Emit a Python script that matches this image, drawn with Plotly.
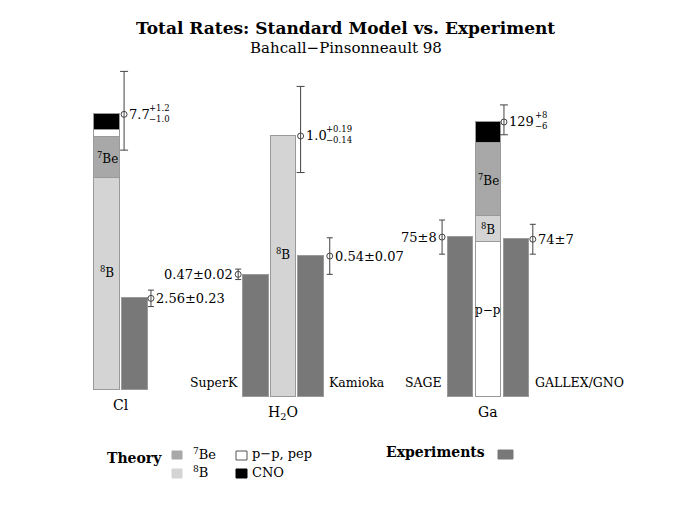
import plotly.graph_objects as go

W, H = 685, 512
OFF = 8          # page body margin of the browser
FONT = "DejaVu Serif"

# ---- data (SNU for Cl and Ga, ratio to SSM for H2O) ----
cl_components = ["8B", "7Be", "pp_pep", "CNO"]
cl_theory = [5.9, 1.15, 0.2, 0.45]
cl_theory_total = 7.7
cl_theory_err = [1.2, 1.0]          # plus, minus
cl_exp = 2.56
cl_exp_err = 0.23

h2o_theory = [1.0]                  # 8B only
h2o_theory_total = 1.0
h2o_theory_err = [0.19, 0.14]
h2o_exp_names = ["SuperK", "Kamioka"]
h2o_exp = [0.47, 0.54]
h2o_exp_err = [0.02, 0.07]

ga_components = ["pp_pep", "8B", "7Be", "CNO"]
ga_theory = [72.4, 12.4, 34.4, 9.8]
ga_theory_total = 129
ga_theory_err = [8, 6]
ga_exp_names = ["SAGE", "GALLEX/GNO"]
ga_exp = [75, 74]
ga_exp_err = [8, 7]

comp_color = {"8B": "#d4d4d4", "7Be": "#a8a8a8", "pp_pep": "#ffffff", "CNO": "#000000"}
comp_label = {"8B": "<sup>8</sup>B", "7Be": "<sup>7</sup>Be", "pp_pep": "p\u2212p", "CNO": ""}
EXP_COLOR = "#787878"
EDGE = "#9a9a9a"
ERR_COLOR = "#444444"


def ydom(base_px, top_px):
    return [1 - (base_px - OFF) / H, 1 - (top_px - OFF) / H]


def xdom(center_px, lo, hi, unit=28.0):
    return [(center_px - OFF + lo * unit) / W, (center_px - OFF + hi * unit) / W]


fig = go.Figure()


def bar(x, y, color, ax):
    fig.add_trace(go.Bar(x=[x], y=[y], width=0.92, marker_color=color,
                         marker_line_color=EDGE, marker_line_width=1,
                         xaxis="x" + ax, yaxis="y" + ax, showlegend=False))


def err(x, y, plus, minus, ax, cap=4):
    fig.add_trace(go.Scatter(x=[x], y=[y], mode="markers",
                             marker=dict(symbol="circle-open", size=6, color=ERR_COLOR,
                                         line=dict(width=1)),
                             error_y=dict(type="data", symmetric=False, array=[plus],
                                          arrayminus=[minus], color=ERR_COLOR,
                                          thickness=1, width=cap),
                             xaxis="x" + ax, yaxis="y" + ax, showlegend=False,
                             cliponaxis=False))


annotations = []


def note(text, x, y, ax, anchor="center", size=12, xshift=0, yshift=0, yanchor="middle"):
    annotations.append(dict(text=text, x=x, y=y, xref="x" + ax, yref="y" + ax,
                            xanchor=anchor, yanchor=yanchor, showarrow=False,
                            xshift=xshift, yshift=yshift, align="left",
                            font=dict(family=FONT, size=size, color="black")))


def value_label(main, sup, sub, x, y, ax, anchor="left", main_w=0):
    sh = 3 if anchor == "left" else -3
    note(main, x, y, ax, anchor=anchor, xshift=sh, size=13)
    if sup:
        note(sup + "<br>" + sub, x, y, ax, anchor="left", size=8.5,
             xshift=sh + main_w, yshift=1)


# ---- Cl panel (axis 1) ----
base = 0.0
for comp, v in zip(cl_components, cl_theory):
    bar(0, v, comp_color[comp], "")
    if comp_label[comp] and comp != "pp_pep":
        yshift = 12 if comp == "8B" else 0
        note(comp_label[comp], 0, base + v / 2, "", yshift=yshift)
    base += v
bar(1, cl_exp, EXP_COLOR, "")
err(0.61, cl_theory_total, cl_theory_err[0], cl_theory_err[1], "")
err(1.57, cl_exp, cl_exp_err, cl_exp_err, "", cap=3)
value_label(str(cl_theory_total), "+%.1f" % cl_theory_err[0], "\u2212%.1f" % cl_theory_err[1],
            0.61, cl_theory_total, "", main_w=20)
value_label("%.2f\u00b1%.2f" % (cl_exp, cl_exp_err), None, None, 1.57, cl_exp, "")
note("Cl", 0.5, 0, "", yshift=-15, size=14)

# ---- H2O panel (axis 2) ----
bar(1, h2o_theory[0], comp_color["8B"], "2")
note(comp_label["8B"], 1, h2o_theory[0] / 2, "2", yshift=13)
for i, (name, v, e) in enumerate(zip(h2o_exp_names, h2o_exp, h2o_exp_err)):
    xi = 0 if i == 0 else 2
    bar(xi, v, EXP_COLOR, "2")
    xe = -0.63 if i == 0 else 2.7
    err(xe, v, e, e, "2", cap=3)
    value_label("%.2f\u00b1%.2f" % (v, e), None, None, xe, v, "2",
                anchor="right" if i == 0 else "left")
    note(name, -0.5 if i == 0 else 2.5, 0, "2", anchor="right" if i == 0 else "left",
         xshift=-2 if i == 0 else 3, yshift=5, yanchor="bottom", size=12.5)
err(1.64, h2o_theory_total, h2o_theory_err[0], h2o_theory_err[1], "2")
value_label("%.1f" % h2o_theory_total, "+%.2f" % h2o_theory_err[0],
            "\u2212%.2f" % h2o_theory_err[1], 1.64, h2o_theory_total, "2", main_w=20)
note("H<sub>2</sub>O", 1, 0, "2", yshift=-16, size=14)

# ---- Ga panel (axis 3) ----
base = 0.0
for comp, v in zip(ga_components, ga_theory):
    bar(1, v, comp_color[comp], "3")
    if comp_label[comp]:
        yshift = 10 if comp == "pp_pep" else 0
        note(comp_label[comp], 1, base + v / 2, "3", yshift=yshift)
    base += v
for i, (name, v, e) in enumerate(zip(ga_exp_names, ga_exp, ga_exp_err)):
    xi = 0 if i == 0 else 2
    bar(xi, v, EXP_COLOR, "3")
    xe = -0.64 if i == 0 else 2.6
    err(xe, v, e, e, "3", cap=3)
    value_label("%d\u00b1%d" % (v, e), None, None, xe, v, "3",
                anchor="right" if i == 0 else "left")
    note(name, -0.5 if i == 0 else 2.5, 0, "3", anchor="right" if i == 0 else "left",
         xshift=-2 if i == 0 else 3, yshift=5, yanchor="bottom", size=12.5)
err(1.57, ga_theory_total, ga_theory_err[0], ga_theory_err[1], "3")
value_label(str(ga_theory_total), "+%d" % ga_theory_err[0], "\u2212%d" % ga_theory_err[1],
            1.57, ga_theory_total, "3", main_w=26)
note("Ga", 1, 0, "3", yshift=-15, size=14)

# ---- legend and titles (drawn by hand, page pixel coordinates) ----
shapes = []


def swatch(x0, y0, x1, y1, color, line="#9a9a9a"):
    shapes.append(dict(type="rect", xref="paper", yref="paper",
                       x0=(x0 - OFF) / W, x1=(x1 - OFF) / W,
                       y0=1 - (y1 - OFF) / H, y1=1 - (y0 - OFF) / H,
                       fillcolor=color, line=dict(color=line, width=1)))


def ptext(text, x, y, anchor="left", size=13):
    annotations.append(dict(text=text, x=(x - OFF) / W, y=1 - (y - OFF) / H,
                            xref="paper", yref="paper", xanchor=anchor, yanchor="middle",
                            showarrow=False,
                            font=dict(family=FONT, size=size, color="black")))


ptext("<b>Total Rates: Standard Model vs. Experiment</b>", 345, 28, anchor="center", size=17)
ptext("Bahcall\u2212Pinsonneault 98", 346, 48, anchor="center", size=15)

ptext("<b>Theory</b>", 105, 458, size=14)
swatch(172, 451, 182, 459, comp_color["7Be"], comp_color["7Be"])
swatch(172, 469, 182, 478, comp_color["8B"], comp_color["8B"])
swatch(236, 451, 247, 460, comp_color["pp_pep"], "#555555")
swatch(236, 469, 247, 478, comp_color["CNO"], "#000000")
ptext(comp_label["7Be"], 191, 454)
ptext(comp_label["8B"], 191, 472)
ptext("p\u2212p, pep", 250, 453)
ptext("CNO", 250, 472)
ptext("<b>Experiments</b>", 384, 452, size=14)
swatch(498, 450, 513, 459, EXP_COLOR, EXP_COLOR)

hidden = dict(visible=False, fixedrange=True)
fig.update_layout(
    width=W, height=H, margin=dict(l=0, r=0, t=0, b=0),
    plot_bgcolor="white", paper_bgcolor="white", barmode="stack", bargap=0,
    xaxis=dict(domain=xdom(107, -0.6, 1.8), range=[-0.6, 1.8], **hidden),
    yaxis=dict(domain=ydom(390, 390 - 9.6 * 35.8), range=[0, 9.6], **hidden),
    xaxis2=dict(domain=xdom(255.5, -0.8, 2.85, 27.5), range=[-0.8, 2.85],
                anchor="y2", **hidden),
    yaxis2=dict(domain=ydom(397, 397 - 1.3 * 261), range=[0, 1.3], anchor="x2", **hidden),
    xaxis3=dict(domain=xdom(460, -0.8, 2.8), range=[-0.8, 2.8], anchor="y3", **hidden),
    yaxis3=dict(domain=ydom(397, 397 - 150 * 2.132), range=[0, 150], anchor="x3", **hidden),
    annotations=annotations, shapes=shapes,
)

fig.write_html("out.html")
